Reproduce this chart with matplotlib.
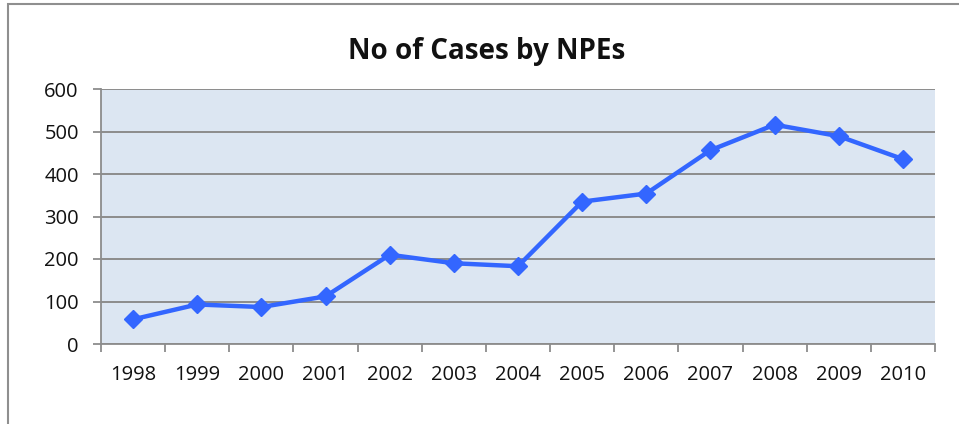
import numpy as np
import matplotlib.pyplot as plt
from matplotlib.patches import Rectangle

years = ['1998', '1999', '2000', '2001', '2002', '2003', '2004',
         '2005', '2006', '2007', '2008', '2009', '2010']
cases = [58, 93, 87, 112, 210, 190, 183, 335, 354, 456, 516, 489, 435]
y_ticks = [0, 100, 200, 300, 400, 500, 600]

plt.rcParams['font.family'] = ['Open Sans', 'DejaVu Sans']

fig = plt.figure(figsize=(9.59, 4.24), dpi=100)
fig.patches.append(Rectangle((8/959, -0.2), 1.2, 1.2 - 4/424,
                             transform=fig.transFigure, fill=False,
                             edgecolor='#8f8f8f', linewidth=1.5))

ax = fig.add_axes([101/959, 1 - 344/424, (935 - 101)/959, (344 - 89)/424])
ax.set_facecolor('#dce6f2')

x = np.arange(len(years))
ax.plot(x, cases, color='#3366ff', linewidth=3.2, marker='D',
        markersize=9.5, zorder=3, clip_on=False)

ax.set_xlim(-0.5, len(years) - 0.5)
ax.set_ylim(0, 600)
ax.set_yticks(y_ticks)
ax.set_yticklabels([str(v) for v in y_ticks], fontsize=14.5, color='#111111')
ax.set_xticks(x)
ax.set_xticklabels(years, fontsize=14.5, color='#111111')
ax.set_xticks(np.arange(len(years) + 1) - 0.5, minor=True)

ax.tick_params(axis='x', which='major', length=0, pad=15)
ax.tick_params(axis='x', which='minor', length=6, width=1.3, color='#8c8c8c')
ax.tick_params(axis='y', length=6, width=1.3, color='#8c8c8c', pad=10)

ax.grid(axis='y', color='#8c8c8c', linewidth=1.4)
ax.set_axisbelow(True)
for s in ['top', 'right']:
    ax.spines[s].set_visible(False)
for s in ['left', 'bottom']:
    ax.spines[s].set_color('#8c8c8c')
    ax.spines[s].set_linewidth(1.3)

fig.text(487/959, 1 - 51/424, 'No of Cases by NPEs', ha='center', va='center',
         fontsize=20, fontweight='bold', color='#111111')

fig.savefig('out.png', dpi=100)
